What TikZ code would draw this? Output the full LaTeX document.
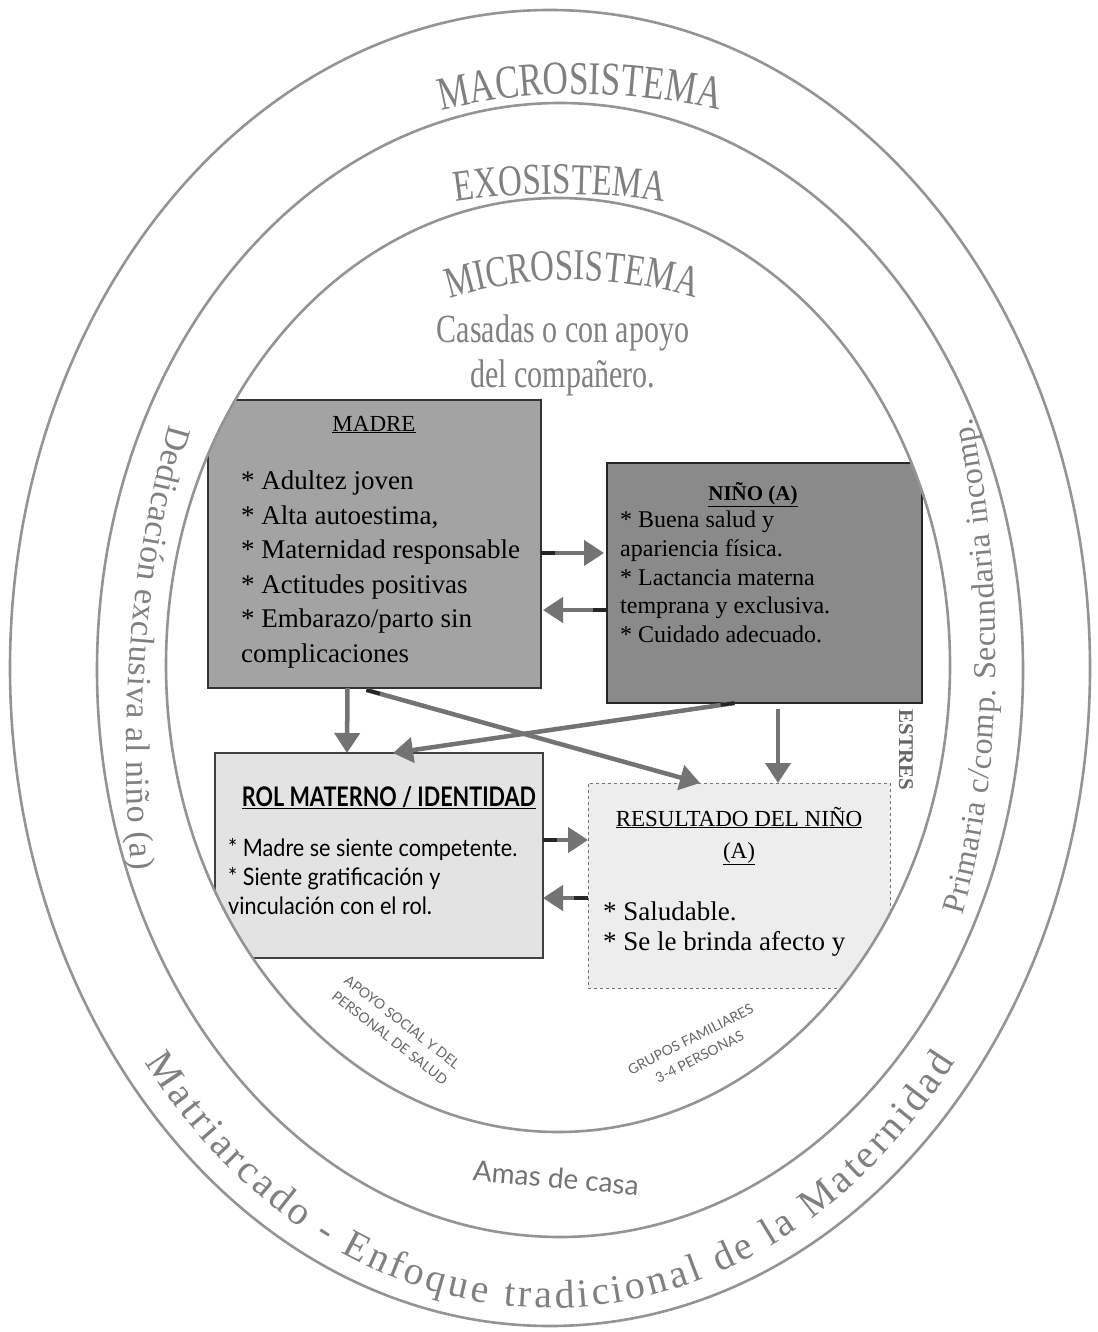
\documentclass[tikz,border=0pt]{standalone}
\usepackage{fontspec}
\setmainfont{Liberation Serif}
\newfontfamily\archfont[FakeStretch=0.75]{Liberation Serif}
\newfontfamily\sidefont{Liberation Serif}
\newfontfamily\rolfont[FakeStretch=0.9]{Lato}
\newfontfamily\rolhead[FakeStretch=0.8]{Lato}
\newfontfamily\labelfont{Lato}
\usetikzlibrary{arrows.meta,calc,decorations.text}

\begin{document}
\begin{tikzpicture}[x=1pt, y=-1pt,
  ring/.style={draw=black!42, line width=2.6pt},
  boxbase/.style={rectangle, inner sep=0pt, outer sep=0pt},
  madrebox/.style={boxbase, fill=black!36, draw=black!80, line width=1.2pt},
  ninobox/.style={boxbase, fill=black!46, draw=black!85, line width=1.6pt},
  rolbox/.style={boxbase, fill=black!11, draw=black!75, line width=1.2pt},
  resbox/.style={boxbase, fill=black!7, draw=black!55, line width=0.9pt, dashed},
  flow/.style={draw=black!55, line width=4.5pt, -{Triangle[length=20pt,width=25pt]}},
  tailmark/.style={draw=black!85, line width=3.5pt},
  arctext/.style={decorate, decoration={text along path, text color=black!50, #1}},
  boxtext/.style={inner sep=0pt, text=black},
  smalllabel/.style={inner sep=0pt, text=black!60, font=\labelfont\fontsize{14}{20}\selectfont},
]
\useasboundingbox (0,0) rectangle (1097,1332);
\fill[white] (0,0) rectangle (1097,1332);

% outer systems
\draw[ring] (550,668) ellipse[x radius=540, y radius=658];
\draw[ring] (560,670) ellipse[x radius=463, y radius=567];

% boxes, clipped to the microsystem
\begin{scope}
  \clip (558,665) ellipse[x radius=392, y radius=467];
  \node[madrebox, minimum width=333pt, minimum height=288pt] (madre) at (374.5,544) {};
  \node[ninobox, minimum width=315pt, minimum height=240pt] (nino) at (764.5,583) {};
  \node[rolbox, minimum width=328pt, minimum height=205pt] (rol) at (379,855.5) {};
  \node[resbox, minimum width=302pt, minimum height=205pt] (res) at (739,885.5) {};
\end{scope}
\draw[ring] (558,665) ellipse[x radius=392, y radius=467];

% system names
\path[arctext={text align=center, text={|\archfont\fontsize{47}{47}\selectfont|MACROSISTEMA}}]
  (580,694) ++(240:600) arc[start angle=240, end angle=300, radius=600];
\path[arctext={text align=center, text={|\archfont\fontsize{44}{44}\selectfont|EXOSISTEMA}}]
  (560,894) ++(250:700) arc[start angle=250, end angle=290, radius=700];
\path[arctext={text align=center, text={|\archfont\fontsize{44}{44}\selectfont|MICROSISTEMA}}]
  (572,700) ++(240:420) arc[start angle=240, end angle=300, radius=420];

\node[align=center, inner sep=0pt, text=black!50, font=\archfont\fontsize{40}{45}\selectfont]
  (casadas) at (563,355) {Casadas o con apoyo\\del compañero.};

% ring side texts
\path[arctext={text align=fit to path, text={|\sidefont\fontsize{34}{34}\selectfont|Dedicación exclusiva al niño (a)}}]
  (170,425) .. controls (130,560) and (118,720) .. (132,870);
\path[arctext={text align=fit to path, text={|\sidefont\fontsize{32}{32}\selectfont|Primaria c/comp. Secundaria incomp.}}]
  (962,915) .. controls (1002,780) and (1008,600) .. (972,418);
\path[arctext={text align=fit to path, text={|\sidefont\fontsize{40}{40}\selectfont|Matriarcado - Enfoque tradicional de la Maternidad}}]
  (550,668) ++(142:514 and 640) arc[start angle=142, end angle=38, x radius=514, y radius=640];

% box contents
\node[boxtext, anchor=base, font=\fontsize{23}{23}\selectfont] (madreT) at (374,431) {\underline{MADRE}};
\node[boxtext, anchor=north west, align=left, font=\fontsize{27}{34.5}\selectfont] (madreB) at (241,471)
  {* Adultez joven\\* Alta autoestima,\\* Maternidad responsable\\* Actitudes positivas\\* Embarazo/parto sin\\complicaciones};

\node[boxtext, anchor=base, font=\bfseries\fontsize{21}{21}\selectfont] (ninoT) at (753,500) {\underline{NIÑO (A)}};
\node[boxtext, anchor=north west, align=left, font=\fontsize{24}{28.7}\selectfont] (ninoB) at (620,511)
  {* Buena salud y\\apariencia física.\\* Lactancia materna\\temprana y exclusiva.\\* Cuidado adecuado.};

\node[boxtext, anchor=base, font=\rolhead\bfseries\fontsize{27}{27}\selectfont] (rolT) at (389,806) {\underline{ROL MATERNO / IDENTIDAD}};
\node[boxtext, anchor=north west, align=left, font=\rolfont\fontsize{24}{29}\selectfont] (rolB) at (228,838)
  {* Madre se siente competente.\\* Siente gratificación y\\vinculación con el rol.};

\node[boxtext, anchor=base, font=\fontsize{23}{23}\selectfont] (resT) at (739,826) {\underline{RESULTADO DEL NIÑO}};
\node[boxtext, anchor=base, font=\fontsize{23}{23}\selectfont] (resA) at (739,858) {\underline{(A)}};
\node[boxtext, anchor=north west, align=left, font=\fontsize{27}{30}\selectfont] (resB) at (603,902)
  {* Saludable.\\* Se le brinda afecto y};

% labels
\node[inner sep=0pt, rotate=-90, text=black!60, font=\bfseries\fontsize{21}{21}\selectfont] (estres) at (906,750) {ESTRES};
\node[smalllabel, rotate=-38, align=center] (apoyo) at (396,1030) {APOYO SOCIAL Y DEL\\PERSONAL DE SALUD};
\node[smalllabel, rotate=27, align=center] (grupos) at (695,1048) {GRUPOS FAMILIARES\\3-4 PERSONAS};
\node[inner sep=0pt, rotate=-5, text=black!55, font=\labelfont\fontsize{28}{28}\selectfont] (amas) at (556,1178) {Amas de casa};

% relation end points
\coordinate (a1) at ($(madre.east)+(0,9)$);
\coordinate (b1) at ($(nino.west)+(-3,-30)$);
\coordinate (a2) at ($(nino.west)+(0,27)$);
\coordinate (b2) at ($(madre.east)+(2,66)$);
\coordinate (a3) at ($(madre.south)+(-27,0)$);
\coordinate (b3) at ($(rol.north)+(-32,0)$);
\coordinate (a4) at ($(madre.south)+(-8,2)$);
\coordinate (b4) at ($(res.north)+(-39,0)$);
\coordinate (a5) at ($(nino.south)+(-30,0)$);
\coordinate (b5) at ($(rol.north)+(14,0)$);
\coordinate (a6) at ($(nino.south)+(13.5,6)$);
\coordinate (b6) at ($(res.north)+(39,0)$);
\coordinate (a7) at ($(rol.east)+(0,-15.5)$);
\coordinate (b7) at ($(res.west)+(0,-45.5)$);
\coordinate (a8) at ($(res.west)+(0,12.5)$);
\coordinate (b8) at ($(rol.east)+(0,42.5)$);

% relations
\foreach \i in {1,...,8} {
  \draw[flow] (a\i) -- (b\i);
}
\foreach \i in {1,2,4,5,7,8} {
  \draw[tailmark] (a\i) -- ($(a\i)!14pt!(b\i)$);
}
\end{tikzpicture}
\end{document}
